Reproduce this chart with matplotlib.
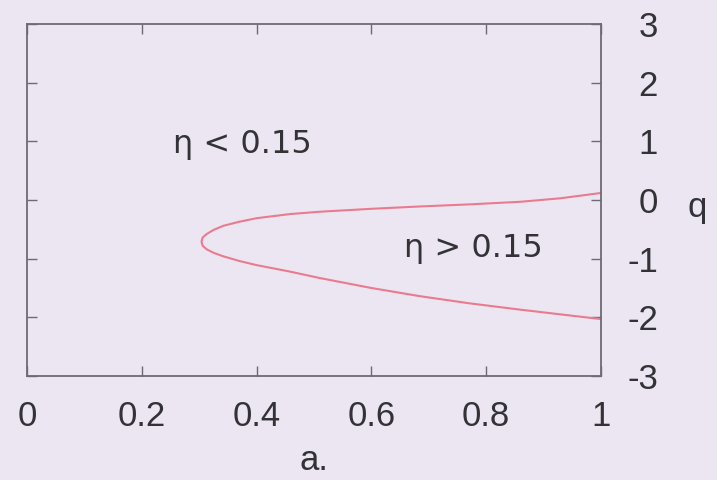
import matplotlib
matplotlib.use('Agg')
import matplotlib.pyplot as plt

# boundary curve eta = 0.15, traced from the top end through the nose to the bottom end
a_vals = [1.0, 0.93, 0.86, 0.77, 0.685, 0.6, 0.51, 0.458, 0.40, 0.37, 0.342, 0.325, 0.313,
          0.306, 0.304, 0.306, 0.313, 0.325, 0.342, 0.37, 0.40, 0.458, 0.51, 0.6, 0.685,
          0.77, 0.86, 0.93, 1.0]
q_vals = [0.12, 0.03, -0.03, -0.075, -0.11, -0.15, -0.20, -0.24, -0.31, -0.37, -0.44, -0.51,
          -0.58, -0.64, -0.71, -0.78, -0.84, -0.90, -0.96, -1.04, -1.11, -1.22, -1.33, -1.50,
          -1.64, -1.76, -1.87, -1.95, -2.03]

x_ticks = [0, 0.2, 0.4, 0.6, 0.8, 1]
x_labels = ['0', '0.2', '0.4', '0.6', '0.8', '1']
y_ticks = [-3, -2, -1, 0, 1, 2, 3]
y_labels = ['-3', '-2', '-1', '0', '1', '2', '3']

region_labels = ['η < 0.15', 'η > 0.15']
region_pos = [(0.376, 0.95), (0.777, -0.82)]

bg = '#ece6f3'
txt = '#333337'
edge = '#6c6a72'

plt.rcParams['font.family'] = ['Liberation Sans', 'DejaVu Sans']
plt.rcParams['axes.unicode_minus'] = False

fig = plt.figure(figsize=(7.17, 4.8), dpi=100, facecolor=bg)
ax = fig.add_axes([27/717, 1 - 376/480, (601-27)/717, (376-24)/480])
ax.set_facecolor(bg)

ax.plot(a_vals, q_vals, color='#ea7b8f', lw=1.5)

for lab, (xa, yq) in zip(region_labels, region_pos):
    ax.text(xa, yq, lab, fontsize=23, color=txt, ha='center', va='center',
            family=['DejaVu Sans'])

ax.set_xlim(0, 1)
ax.set_ylim(-3, 3)
ax.set_xticks(x_ticks)
ax.set_xticklabels(x_labels)
ax.set_yticks(y_ticks)
ax.set_yticklabels(y_labels)

ax.tick_params(axis='both', direction='in', length=7, width=1, color=edge,
               top=True, bottom=True, left=True, right=True, labelsize=25, labelcolor=txt)
ax.tick_params(axis='x', pad=17)
ax.tick_params(axis='y', labelleft=False, labelright=True, pad=41)
for lab in ax.get_yticklabels():
    lab.set_horizontalalignment('right')

for sp in ax.spines.values():
    sp.set_color(edge)
    sp.set_linewidth(1.3)

ax.set_xlabel('a.', fontsize=25, color=txt, labelpad=8)
ax.yaxis.set_label_position('right')
ax.set_ylabel('q', fontsize=25, color=txt, rotation=0, ha='center', va='center')
ax.yaxis.set_label_coords(1.167, 0.48)

fig.savefig('out.png', dpi=100, facecolor=bg)
